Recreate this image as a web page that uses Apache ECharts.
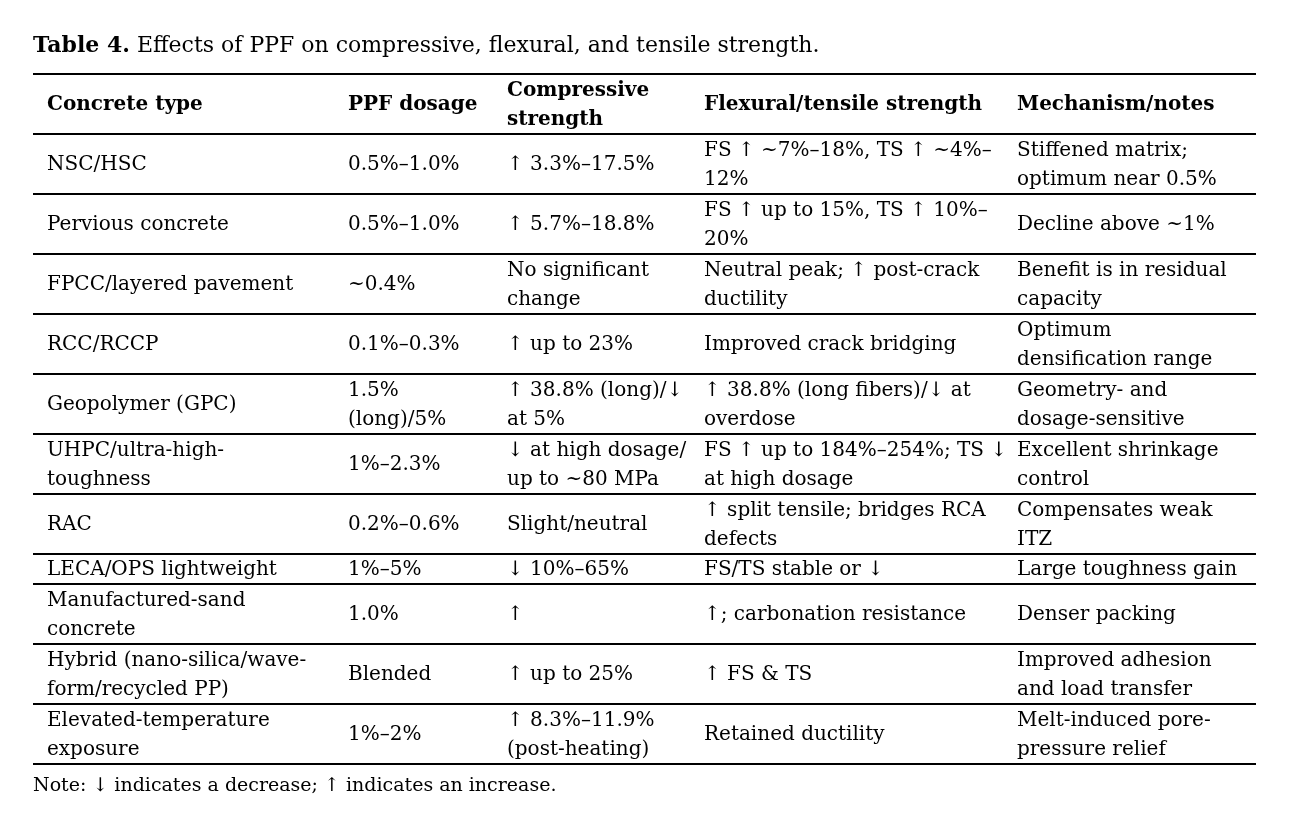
<!DOCTYPE html>
<html>
<head>
<meta charset="utf-8">
<title>Table 4</title>
<script src="https://cdn.jsdelivr.net/npm/echarts@6/dist/echarts.min.js"></script>
<style>
  html, body { margin: 0; padding: 0; background: #fff; }
  #main { width: 1293px; height: 838px; }
</style>
</head>
<body>
<div id="main"></div>
<script>
// table content
const headers = ['Concrete type', 'PPF dosage', 'Compressive\nstrength', 'Flexural/tensile strength', 'Mechanism/notes'];
const concreteType = [
  'NSC/HSC', 'Pervious concrete', 'FPCC/layered pavement', 'RCC/RCCP', 'Geopolymer (GPC)',
  'UHPC/ultra-high-\ntoughness', 'RAC', 'LECA/OPS lightweight', 'Manufactured-sand\nconcrete',
  'Hybrid (nano-silica/wave-\nform/recycled PP)', 'Elevated-temperature\nexposure'
];
const ppfDosage = [
  '0.5%–1.0%', '0.5%–1.0%', '~0.4%', '0.1%–0.3%', '1.5%\n(long)/5%',
  '1%–2.3%', '0.2%–0.6%', '1%–5%', '1.0%', 'Blended', '1%–2%'
];
const compressive = [
  '↑ 3.3%–17.5%', '↑ 5.7%–18.8%', 'No significant\nchange', '↑ up to 23%', '↑ 38.8% (long)/↓\nat 5%',
  '↓ at high dosage/\nup to ~80 MPa', 'Slight/neutral', '↓ 10%–65%', '↑', '↑ up to 25%',
  '↑ 8.3%–11.9%\n(post-heating)'
];
const flexTensile = [
  'FS ↑ ~7%–18%, TS ↑ ~4%–\n12%', 'FS ↑ up to 15%, TS ↑ 10%–\n20%', 'Neutral peak; ↑ post-crack\nductility',
  'Improved crack bridging', '↑ 38.8% (long fibers)/↓ at\noverdose', 'FS ↑ up to 184%–254%; TS ↓\nat high dosage',
  '↑ split tensile; bridges RCA\ndefects', 'FS/TS stable or ↓', '↑; carbonation resistance', '↑ FS & TS',
  'Retained ductility'
];
const mechanism = [
  'Stiffened matrix;\noptimum near 0.5%', 'Decline above ~1%', 'Benefit is in residual\ncapacity',
  'Optimum\ndensification range', 'Geometry- and\ndosage-sensitive', 'Excellent shrinkage\ncontrol',
  'Compensates weak\nITZ', 'Large toughness gain', 'Denser packing', 'Improved adhesion\nand load transfer',
  'Melt-induced pore-\npressure relief'
];
const titleBold = 'Table 4.';
const titleText = ' Effects of PPF on compressive, flexural, and tensile strength.';
const noteText = 'Note: ↓ indicates a decrease; ↑ indicates an increase.';

// layout
const FONT = '"DejaVu Serif", serif';
const fontSize = 20;
const lineUnit = 30;
const tableLeft = 33;
const tableWidth = 1223;
const tableTop = 74;
const colX = [14, 315, 474, 671, 984];

const body = concreteType.map((t, i) => [t, ppfDosage[i], compressive[i], flexTensile[i], mechanism[i]]);
const allRows = [headers].concat(body);
const rowUnits = allRows.map(r => Math.max.apply(null, r.map(c => c.split('\n').length)));
let acc = 0;
const rowData = allRows.map((r, i) => {
  const start = acc;
  acc += rowUnits[i];
  return [i, start, acc];
});
const totalUnits = acc;

const chart = echarts.init(document.getElementById('main'));

function renderRow(params, api) {
  const i = api.value(0);
  const y0 = api.value(1);
  const y1 = api.value(2);
  const cells = allRows[i];
  const children = [];
  const yMid = api.coord([0, (y0 + y1) / 2])[1];
  cells.forEach((txt, c) => {
    const x = api.coord([colX[c], 0])[0];
    children.push({
      type: 'text',
      style: {
        text: txt,
        x: x,
        y: yMid + 1,
        align: 'left',
        verticalAlign: 'middle',
        fontFamily: FONT,
        fontSize: fontSize,
        fontWeight: i === 0 ? 'bold' : 'normal',
        lineHeight: 29,
        fill: '#000'
      }
    });
  });
  const left = api.coord([0, y1])[0];
  const right = api.coord([tableWidth, y1])[0];
  const yb = api.coord([0, y1])[1];
  children.push({
    type: 'line',
    shape: { x1: left, y1: yb, x2: right, y2: yb },
    style: { stroke: '#000', lineWidth: 2 }
  });
  if (i === 0) {
    const yt = api.coord([0, y0])[1];
    children.push({
      type: 'line',
      shape: { x1: left, y1: yt, x2: right, y2: yt },
      style: { stroke: '#000', lineWidth: 2 }
    });
  }
  return { type: 'group', children: children };
}

const option = {
  animation: false,
  backgroundColor: '#fff',
  title: [{
    text: '{b|' + titleBold + '}' + titleText,
    left: tableLeft,
    top: 35,
    padding: 0,
    textStyle: {
      fontFamily: FONT,
      fontSize: 22,
      fontWeight: 'normal',
      color: '#000',
      rich: {
        b: { fontFamily: FONT, fontSize: 22, fontWeight: 'bold', color: '#000' }
      }
    }
  }, {
    text: noteText,
    left: tableLeft,
    top: tableTop + totalUnits * lineUnit + 13,
    padding: 0,
    textStyle: { fontFamily: FONT, fontSize: 19, fontWeight: 'normal', color: '#000' }
  }],
  grid: {
    left: tableLeft,
    top: tableTop,
    width: tableWidth,
    height: totalUnits * lineUnit
  },
  xAxis: { type: 'value', min: 0, max: tableWidth, show: false },
  yAxis: { type: 'value', min: 0, max: totalUnits, inverse: true, show: false },
  series: [{
    type: 'custom',
    renderItem: renderRow,
    clip: false,
    encode: { x: 0, y: 1 },
    data: rowData
  }]
};

chart.setOption(option);
</script>
</body>
</html>
